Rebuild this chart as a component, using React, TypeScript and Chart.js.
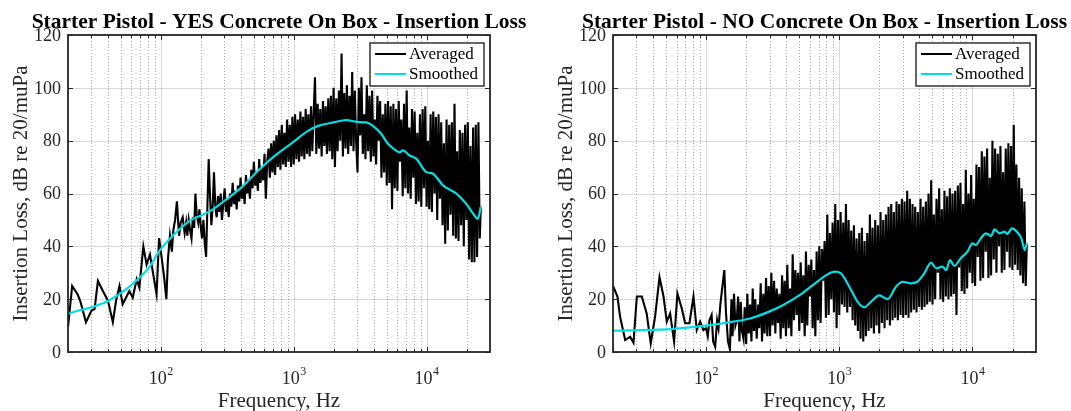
import React, { useEffect, useRef } from 'react';
import { Chart, registerables } from 'chart.js';

Chart.register(...registerables);

const SERIF = "'Liberation Serif', 'Times New Roman', Times, serif";
const INK = '#262626';
const CYAN = '#00dfe6';

// Axis ticks
const Y_TICKS = [0, 20, 40, 60, 80, 100, 120];
const X_DECADES = [100, 1000, 10000];
const X_DECADE_EXP = ['2', '3', '4'];
const X_MINOR = [
  20, 30, 40, 50, 60, 70, 80, 90,
  200, 300, 400, 500, 600, 700, 800, 900,
  2000, 3000, 4000, 5000, 6000, 7000, 8000, 9000,
  20000,
];

// Frequency bins shared by both averaged spectra from 150 Hz up
const BAND_FREQ = [
  151, 155, 158, 162, 166, 170, 174, 178, 182, 186,
  191, 195, 200, 204, 209, 214, 219, 224, 229, 234,
  240, 246, 251, 257, 263, 269, 275, 282, 288, 295,
  302, 309, 316, 324, 331, 339, 347, 355, 363, 372,
  380, 389, 398, 407, 417, 427, 437, 447, 457, 468,
  479, 490, 501, 513, 525, 537, 550, 562, 575, 589,
  603, 617, 631, 646, 661, 676, 692, 708, 724, 741,
  759, 776, 794, 813, 832, 851, 871, 891, 912, 933,
  955, 977, 1000, 1023, 1047, 1072, 1096, 1122, 1148, 1175,
  1202, 1230, 1259, 1288, 1318, 1349, 1380, 1413, 1445, 1479,
  1514, 1549, 1585, 1622, 1660, 1698, 1738, 1778, 1820, 1862,
  1905, 1950, 1995, 2042, 2089, 2138, 2188, 2239, 2291, 2344,
  2399, 2455, 2512, 2570, 2630, 2692, 2754, 2818, 2884, 2951,
  3020, 3090, 3162, 3236, 3311, 3388, 3467, 3548, 3631, 3715,
  3802, 3890, 3981, 4074, 4169, 4266, 4365, 4467, 4571, 4677,
  4786, 4898, 5012, 5129, 5248, 5370, 5495, 5623, 5754, 5888,
  6026, 6166, 6310, 6457, 6607, 6761, 6918, 7079, 7244, 7413,
  7586, 7762, 7943, 8128, 8318, 8511, 8710, 8913, 9120, 9333,
  9550, 9772, 10000, 10230, 10470, 10720, 10960, 11220, 11480, 11750,
  12020, 12300, 12590, 12880, 13180, 13490, 13800, 14130, 14450, 14790,
  15140, 15490, 15850, 16220, 16600, 16980, 17380, 17780, 18200, 18620,
  19050, 19500, 19950, 20420, 20890, 21380, 21880, 22390, 22910, 23440,
  23990, 24550, 25120, 25600,
];

// YES concrete on box — averaged insertion loss, dB
const YES_LOW_FREQ = [
  20, 21.5, 23.6, 24.9, 27.3, 30, 31.7, 33.6, 36.6, 40,
  43.5, 46, 48.8, 51.6, 54.7, 57.9, 61.4, 65.8, 68.9, 73.8,
  78.1, 82.8, 87.6, 92.8, 97, 100, 103, 106, 110, 113,
  117, 121, 124, 128, 132, 137, 141, 146,
];
const YES_LOW_DB = [
  9.4, 25, 21.9, 18.8, 11.3, 15.6, 16.3, 26.9, 23.1, 19.4,
  11.3, 19.4, 25, 18.1, 20.6, 23.1, 20.6, 27.5, 24.4, 40,
  33.1, 36.9, 29.4, 21.9, 43.1, 38, 33, 28, 20, 35,
  44, 38, 46, 50, 57, 44, 49, 51,
];
const YES_BAND_DB = [
  45, 49, 44, 50, 46, 43, 51, 47, 60, 52,
  49, 54, 47, 43, 50, 41, 36, 55, 73, 60,
  48, 56, 68, 55, 51, 59, 53, 60, 50, 56,
  62, 53, 58, 51, 60, 55, 64, 56, 61, 54,
  63, 57, 66, 58, 63, 56, 67, 60, 65, 58,
  69, 62, 72, 63, 68, 61, 73, 64, 70, 65,
  75, 58, 72, 77, 66, 79, 68, 80, 67, 82,
  70, 84, 69, 86, 71, 83, 70, 88, 72, 86,
  70, 89, 71, 90, 73, 88, 72, 91, 74, 89,
  73, 92, 75, 90, 74, 93, 76, 91, 104, 75,
  94, 77, 92, 74, 95, 78, 93, 75, 96, 76,
  97, 73, 100, 70, 96, 76, 99, 80, 113, 74,
  98, 77, 101, 75, 97, 78, 106, 76, 99, 79,
  68, 100, 82, 104, 75, 90, 73, 101, 76, 97,
  72, 99, 74, 88, 71, 97, 80, 95, 66, 90,
  68, 94, 63, 95, 64, 93, 54, 94, 62, 92,
  61, 95, 72, 88, 59, 94, 62, 99, 60, 85,
  58, 92, 66, 91, 56, 83, 57, 90, 55, 92,
  62, 93, 55, 80, 54, 90, 53, 91, 60, 89,
  50, 90, 58, 87, 48, 79, 41, 88, 46, 86,
  52, 87, 44, 94, 43, 76, 42, 84, 48, 83,
  40, 86, 50, 87, 35, 78, 34, 85, 34, 86,
  36, 87, 43, 55,
];
const YES_SMOOTH_FREQ = [
  20, 23, 31, 41, 55, 69, 82, 97, 115, 137,
  173, 205, 243, 306, 409, 544, 726, 967, 1289, 1533,
  2000, 2490, 3000, 3520, 3950, 4570, 5120, 5800, 6270, 6620,
  7400, 8380, 9960, 11170, 13280, 16730, 18740, 20000, 22330, 24330,
  25600,
];
const YES_SMOOTH_DB = [
  14.4, 15.4, 17.1, 19.6, 23.8, 28.1, 32.1, 38.1, 42.5, 46.3,
  50.3, 51.9, 53.8, 57.5, 62.5, 68.8, 74.4, 79.1, 83.8, 85.6,
  86.9, 87.8, 87.1, 86.9, 85.6, 82.5, 78.8, 76.5, 75.6, 76.3,
  74.5, 73.1, 68.1, 67.5, 63.1, 60, 57.5, 55.9, 52.5, 50.4,
  55,
];

// NO concrete on box — averaged insertion loss, dB
const NO_LOW_FREQ = [
  20, 21.6, 22.6, 24.7, 26.9, 28.5, 30.2, 32.9, 35.8, 38.4,
  41.4, 44.7, 47.9, 50.7, 53.7, 57.5, 60.9, 65.7, 69.6, 75,
  80.4, 85.1, 90.2, 95.5, 100, 103, 106, 110, 113, 117,
  121, 124, 128, 132, 137, 141, 146,
];
const NO_LOW_DB = [
  25, 21, 13.4, 4.5, 5.8, 3.5, 21, 21, 14.6, 3.3,
  13.4, 28.3, 21, 11.5, 14.6, 3.9, 22.2, 16.5, 10.9, 10.9,
  21, 8.3, 11.5, 8.3, 9, 6, 12, 14, 4, 2,
  12, 9, 18, 24, 31, 15, 4,
];
const NO_BAND_DB = [
  1, 20, 6, 22, 10, 12, 21, 4, 19, 8,
  5, 17, 3, 22, 7, 18, 4, 24, 8, 20,
  5, 18, 9, 26, 4, 22, 7, 28, 6, 25,
  6, 30, 10, 27, 7, 24, 11, 22, 5, 29,
  9, 27, 6, 33, 9, 24, 6, 37, 12, 31,
  14, 30, 8, 34, 11, 29, 6, 38, 10, 33,
  21, 35, 9, 31, 6, 38, 12, 40, 11, 39,
  27, 42, 13, 52, 14, 45, 20, 49, 15, 56,
  9, 50, 14, 53, 18, 49, 17, 56, 15, 50,
  17, 46, 12, 48, 10, 43, 8, 45, 5, 47,
  4, 42, 6, 45, 8, 52, 9, 47, 7, 50,
  10, 48, 7, 53, 11, 50, 9, 52, 12, 55,
  10, 56, 12, 53, 13, 57, 12, 56, 14, 58,
  13, 57, 14, 61, 13, 58, 15, 56, 16, 55,
  15, 53, 17, 58, 16, 55, 17, 57, 18, 60,
  19, 65, 18, 52, 20, 58, 30, 62, 20, 54,
  19, 61, 21, 59, 20, 62, 21, 60, 22, 61,
  14, 63, 32, 64, 23, 56, 22, 69, 24, 60,
  30, 67, 26, 58, 25, 71, 36, 70, 27, 76,
  28, 74, 38, 77, 28, 66, 29, 80, 35, 77,
  30, 75, 40, 78, 30, 68, 31, 77, 38, 79,
  32, 78, 31, 86, 33, 71, 31, 66, 29, 62,
  26, 57, 25, 41,
];
const NO_SMOOTH_FREQ = [
  20, 51, 100, 160, 214, 285, 380, 507, 637, 800,
  925, 1029, 1189, 1374, 1541, 1730, 2000, 2310, 2665, 2990,
  3440, 3860, 4350, 4890, 5340, 5950, 6340, 6790, 7300, 8180,
  9180, 10000, 10590, 11550, 12630, 13800, 14650, 15960, 17400, 18300,
  19800, 21500, 23300, 24700, 25600,
];
const NO_SMOOTH_DB = [
  8.1, 8.6, 10, 11.5, 12.7, 14.9, 17.8, 21.6, 25.4, 29.1,
  30.4, 29.8, 24.7, 19, 16.9, 19, 21.4, 20, 24.7, 26.6,
  26, 26.6, 29.8, 33.8, 31.7, 32.3, 31, 34.8, 32.6, 35.5,
  38, 41.1, 40.5, 43, 44.9, 43.9, 46.4, 44.9, 45.6, 44.7,
  46.8, 45.6, 43, 38.6, 41.1,
];

const Y_LABEL = 'Insertion Loss, dB re 20/muPa';
const X_LABEL = 'Frequency, Hz';
const LEGEND = ['Averaged', 'Smoothed'];

const toPoints = (fs: number[], vs: number[]) => fs.map((f, i) => ({ x: f, y: vs[i] }));

const crisp = (p: number) => Math.round(p) + 0.5;

function matlabAxes(title: string) {
  return {
    id: 'matlabAxes',
    beforeDatasetsDraw(chart: any) {
      const { ctx, chartArea: a } = chart;
      const xs = chart.scales.x;
      const ys = chart.scales.y;
      ctx.save();
      ctx.fillStyle = '#ffffff';
      ctx.fillRect(a.left, a.top, a.right - a.left, a.bottom - a.top);
      ctx.lineWidth = 1;
      ctx.strokeStyle = 'rgba(38,38,38,0.17)';
      ctx.beginPath();
      for (const v of Y_TICKS) {
        const p = crisp(ys.getPixelForValue(v));
        ctx.moveTo(a.left, p);
        ctx.lineTo(a.right, p);
      }
      for (const f of X_DECADES) {
        const p = crisp(xs.getPixelForValue(f));
        ctx.moveTo(p, a.top);
        ctx.lineTo(p, a.bottom);
      }
      ctx.stroke();
      ctx.setLineDash([1, 2]);
      ctx.strokeStyle = 'rgba(38,38,38,0.38)';
      ctx.beginPath();
      for (const f of X_MINOR) {
        const p = crisp(xs.getPixelForValue(f));
        ctx.moveTo(p, a.top);
        ctx.lineTo(p, a.bottom);
      }
      ctx.stroke();
      ctx.restore();
    },
    afterDatasetsDraw(chart: any) {
      const { ctx, chartArea: a } = chart;
      const xs = chart.scales.x;
      const ys = chart.scales.y;
      ctx.save();

      // inward tick marks
      ctx.strokeStyle = INK;
      ctx.lineWidth = 1;
      ctx.beginPath();
      for (const f of X_DECADES) {
        const p = crisp(xs.getPixelForValue(f));
        ctx.moveTo(p, a.bottom); ctx.lineTo(p, a.bottom - 5);
        ctx.moveTo(p, a.top); ctx.lineTo(p, a.top + 5);
      }
      for (const f of X_MINOR) {
        const p = crisp(xs.getPixelForValue(f));
        ctx.moveTo(p, a.bottom); ctx.lineTo(p, a.bottom - 3);
        ctx.moveTo(p, a.top); ctx.lineTo(p, a.top + 3);
      }
      for (const v of Y_TICKS) {
        const p = crisp(ys.getPixelForValue(v));
        ctx.moveTo(a.left, p); ctx.lineTo(a.left + 5, p);
        ctx.moveTo(a.right, p); ctx.lineTo(a.right - 5, p);
      }
      ctx.stroke();

      // axes box
      ctx.lineWidth = 1.8;
      ctx.strokeRect(a.left, a.top, a.right - a.left, a.bottom - a.top);

      // legend
      const bw = 114, bh = 43;
      const bx = a.right - 6 - bw;
      const by = a.top + 8;
      ctx.fillStyle = '#ffffff';
      ctx.fillRect(bx, by, bw, bh);
      ctx.lineWidth = 1.4;
      ctx.strokeStyle = INK;
      ctx.strokeRect(bx, by, bw, bh);
      const rows = [by + 11, by + 31];
      const colors = ['#000000', CYAN];
      ctx.font = `17px ${SERIF}`;
      ctx.textAlign = 'left';
      ctx.textBaseline = 'middle';
      rows.forEach((ry, i) => {
        ctx.strokeStyle = colors[i];
        ctx.lineWidth = 2;
        ctx.beginPath();
        ctx.moveTo(bx + 5, ry);
        ctx.lineTo(bx + 36, ry);
        ctx.stroke();
        ctx.fillStyle = '#000000';
        ctx.fillText(LEGEND[i], bx + 39, ry + 1);
      });

      // y tick labels
      ctx.fillStyle = INK;
      ctx.font = `18px ${SERIF}`;
      ctx.textAlign = 'right';
      ctx.textBaseline = 'middle';
      for (const v of Y_TICKS) {
        ctx.fillText(String(v), a.left - 7, ys.getPixelForValue(v) + 1);
      }

      // x tick labels: 10 with a raised exponent
      ctx.textAlign = 'left';
      ctx.textBaseline = 'alphabetic';
      X_DECADES.forEach((f, i) => {
        const p = xs.getPixelForValue(f);
        ctx.font = `18px ${SERIF}`;
        const w1 = ctx.measureText('10').width;
        ctx.font = `12px ${SERIF}`;
        const w2 = ctx.measureText(X_DECADE_EXP[i]).width;
        const x0 = p - (w1 + w2) / 2;
        ctx.font = `18px ${SERIF}`;
        ctx.fillText('10', x0, a.bottom + 32);
        ctx.font = `12px ${SERIF}`;
        ctx.fillText(X_DECADE_EXP[i], x0 + w1 + 0.5, a.bottom + 23);
      });

      // axis titles
      const cx = (a.left + a.right) / 2;
      const cy = (a.top + a.bottom) / 2;
      ctx.font = `21px ${SERIF}`;
      ctx.textAlign = 'center';
      ctx.textBaseline = 'alphabetic';
      ctx.fillText(X_LABEL, cx, a.bottom + 55);
      ctx.save();
      ctx.translate(a.left - 47, cy);
      ctx.rotate(-Math.PI / 2);
      ctx.textBaseline = 'middle';
      ctx.fillText(Y_LABEL, 0, 0);
      ctx.restore();

      // title
      ctx.fillStyle = '#000000';
      ctx.font = `bold 21.5px ${SERIF}`;
      ctx.textAlign = 'center';
      ctx.textBaseline = 'alphabetic';
      ctx.fillText(title, cx, a.top - 7);

      ctx.restore();
    },
  };
}

type PanelProps = {
  title: string;
  left: number;
  width: number;
  padLeft: number;
  padRight: number;
  lowFreq: number[];
  lowDb: number[];
  bandDb: number[];
  smoothFreq: number[];
  smoothDb: number[];
};

function Panel(props: PanelProps) {
  const ref = useRef<HTMLCanvasElement>(null);
  useEffect(() => {
    const canvas = ref.current;
    if (!canvas) return;
    const averaged = [
      ...toPoints(props.lowFreq, props.lowDb),
      ...toPoints(BAND_FREQ, props.bandDb),
    ];
    const chart = new Chart(canvas, {
      type: 'line',
      data: {
        datasets: [
          {
            label: LEGEND[0],
            data: averaged,
            borderColor: '#000000',
            borderWidth: 2.1,
            pointRadius: 0,
            tension: 0,
            order: 2,
          },
          {
            label: LEGEND[1],
            data: toPoints(props.smoothFreq, props.smoothDb),
            borderColor: CYAN,
            borderWidth: 2.2,
            pointRadius: 0,
            cubicInterpolationMode: 'monotone',
            order: 1,
          },
        ],
      },
      options: {
        responsive: false,
        animation: false,
        devicePixelRatio: 1,
        events: [],
        layout: {
          padding: { left: props.padLeft, right: props.padRight, top: 35, bottom: 59 },
        },
        plugins: {
          legend: { display: false },
          tooltip: { enabled: false },
          title: { display: false },
        },
        scales: {
          x: { type: 'logarithmic', min: 20, max: 30000, display: false },
          y: { type: 'linear', min: 0, max: 120, display: false },
        },
      } as any,
      plugins: [matlabAxes(props.title)],
    });
    return () => chart.destroy();
  }, []);
  return (
    <canvas
      ref={ref}
      width={props.width}
      height={411}
      style={{ position: 'absolute', left: props.left, top: 0, width: props.width, height: 411 }}
    />
  );
}

export default function App() {
  return (
    <div style={{ position: 'fixed', left: 0, top: 0, width: 1071, height: 411, background: '#ffffff', overflow: 'hidden' }}>
      <Panel
        title="Starter Pistol - YES Concrete On Box - Insertion Loss"
        left={0}
        width={540}
        padLeft={68}
        padRight={50}
        lowFreq={YES_LOW_FREQ}
        lowDb={YES_LOW_DB}
        bandDb={YES_BAND_DB}
        smoothFreq={YES_SMOOTH_FREQ}
        smoothDb={YES_SMOOTH_DB}
      />
      <Panel
        title="Starter Pistol - NO Concrete On Box - Insertion Loss"
        left={540}
        width={531}
        padLeft={73}
        padRight={35}
        lowFreq={NO_LOW_FREQ}
        lowDb={NO_LOW_DB}
        bandDb={NO_BAND_DB}
        smoothFreq={NO_SMOOTH_FREQ}
        smoothDb={NO_SMOOTH_DB}
      />
    </div>
  );
}
